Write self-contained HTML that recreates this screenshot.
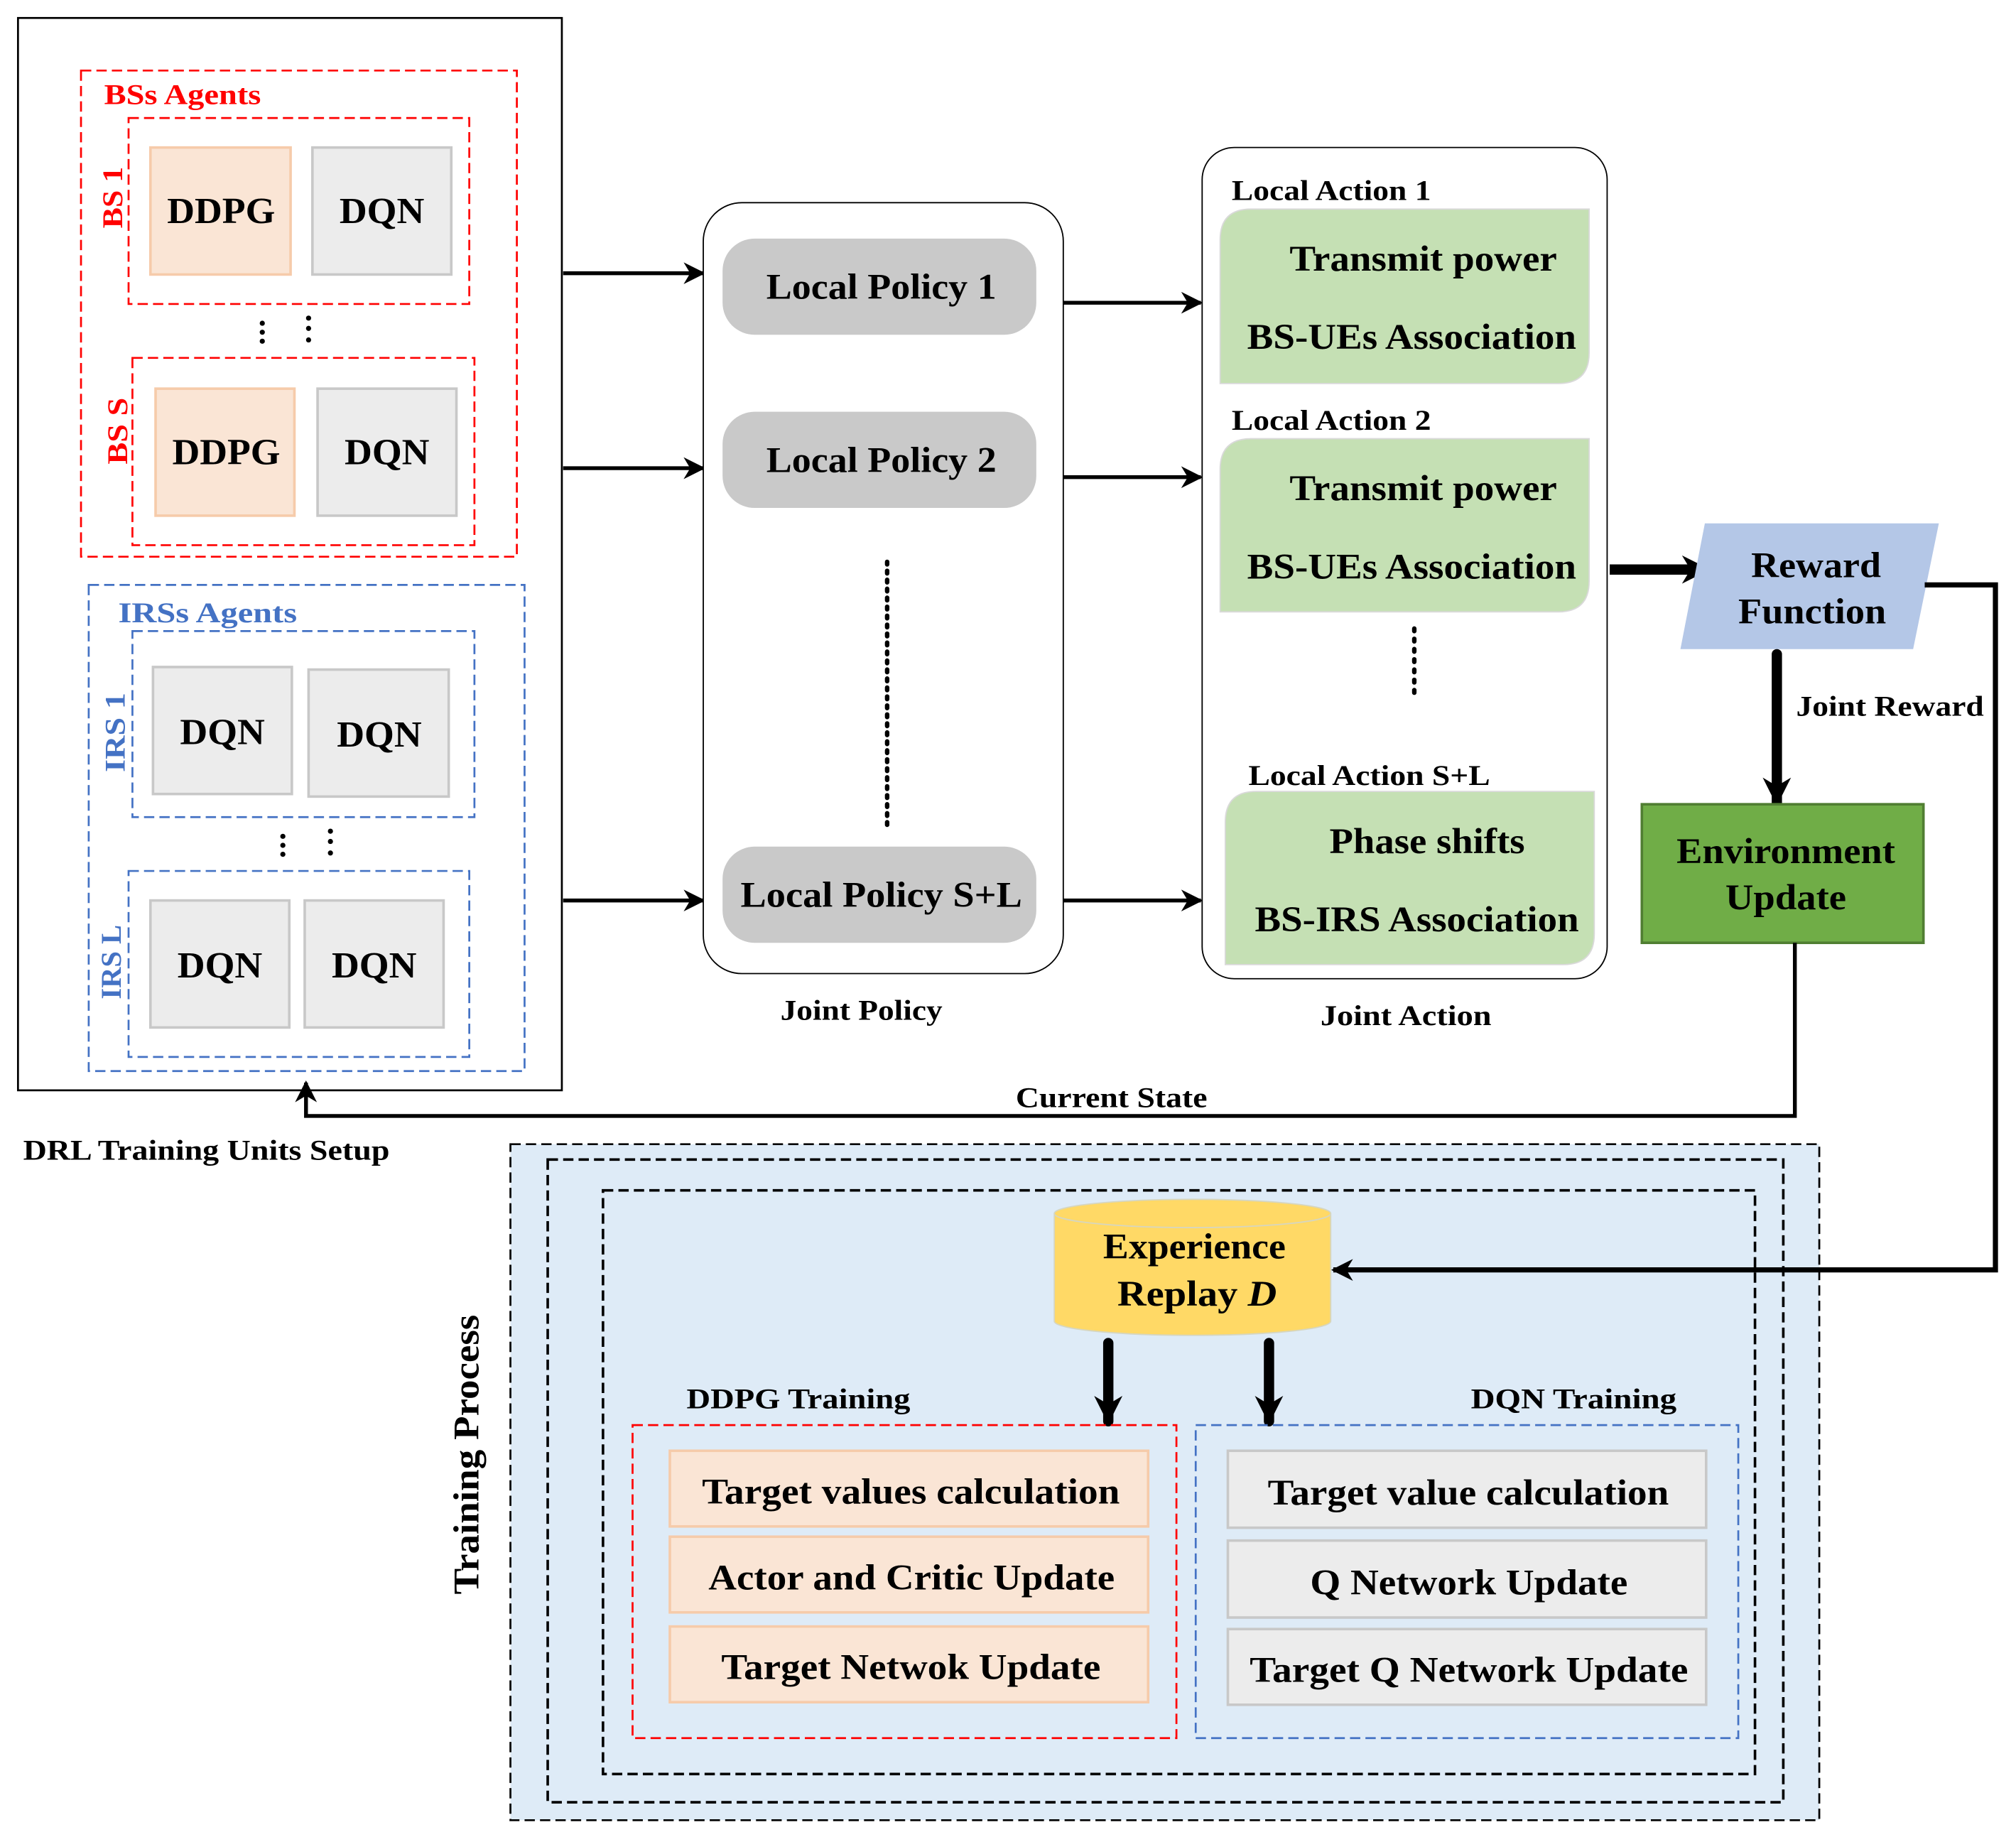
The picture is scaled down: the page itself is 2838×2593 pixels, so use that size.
<!DOCTYPE html>
<html><head><meta charset="utf-8"><style>
html,body{margin:0;padding:0;background:#fff}
svg{display:block}
text{font-family:"Liberation Serif","Times New Roman",serif;font-weight:bold}
</style></head><body>
<svg width="2838" height="2593" viewBox="0 0 1568 1436" preserveAspectRatio="none" xmlns="http://www.w3.org/2000/svg">
<defs>
<marker id="ab" viewBox="0 0 10 10" markerWidth="22" markerHeight="22" refX="9" refY="5" orient="auto" markerUnits="userSpaceOnUse"><path d="M0,0 L10,5 L0,10 L3,5 Z" fill="#000"/></marker>
<marker id="am" viewBox="0 0 10 10" markerWidth="17" markerHeight="17" refX="9" refY="5" orient="auto" markerUnits="userSpaceOnUse"><path d="M0,0 L10,5 L0,10 L3,5 Z" fill="#000"/></marker>
</defs>
<rect x="14" y="14" width="423" height="836" fill="#fff" stroke="#000" stroke-width="1.5"/>
<rect x="63" y="55" width="339" height="379" fill="none" stroke="#f00" stroke-width="1.5" stroke-dasharray="8,4"/>
<text x="81" y="81" font-size="22" fill="#f00" textLength="122" lengthAdjust="spacingAndGlyphs">BSs Agents</text>
<rect x="100" y="92" width="265" height="145" fill="none" stroke="#f00" stroke-width="1.5" stroke-dasharray="8,4"/>
<rect x="117" y="115" width="109" height="99" fill="#fae5d5" stroke="#f6cbaa" stroke-width="2"/>
<rect x="243" y="115" width="108" height="99" fill="#ececec" stroke="#c8c8c8" stroke-width="2"/>
<text x="130" y="174" font-size="29" textLength="84" lengthAdjust="spacingAndGlyphs">DDPG</text>
<text x="264" y="174" font-size="29" textLength="66" lengthAdjust="spacingAndGlyphs">DQN</text>
<text transform="translate(95,154) rotate(-90)" font-size="22" fill="#f00" text-anchor="middle" textLength="48" lengthAdjust="spacingAndGlyphs">BS 1</text>
<g fill="#000"><circle cx="204" cy="252" r="2"/><circle cx="204" cy="259" r="2"/><circle cx="204" cy="266" r="2"/><circle cx="240" cy="248" r="2"/><circle cx="240" cy="256" r="2"/><circle cx="240" cy="265" r="2"/></g>
<rect x="103" y="279" width="266" height="146" fill="none" stroke="#f00" stroke-width="1.5" stroke-dasharray="8,4"/>
<rect x="121" y="303" width="108" height="99" fill="#fae5d5" stroke="#f6cbaa" stroke-width="2"/>
<rect x="247" y="303" width="108" height="99" fill="#ececec" stroke="#c8c8c8" stroke-width="2"/>
<text x="134" y="362" font-size="29" textLength="84" lengthAdjust="spacingAndGlyphs">DDPG</text>
<text x="268" y="362" font-size="29" textLength="66" lengthAdjust="spacingAndGlyphs">DQN</text>
<text transform="translate(99,336) rotate(-90)" font-size="22" fill="#f00" text-anchor="middle" textLength="52" lengthAdjust="spacingAndGlyphs">BS S</text>
<rect x="69" y="456" width="339" height="379" fill="none" stroke="#4472c4" stroke-width="1.5" stroke-dasharray="8,4"/>
<text x="92" y="485" font-size="22" fill="#4472c4" textLength="139" lengthAdjust="spacingAndGlyphs">IRSs  Agents</text>
<rect x="103" y="492" width="266" height="145" fill="none" stroke="#4472c4" stroke-width="1.5" stroke-dasharray="8,4"/>
<rect x="119" y="520" width="108" height="99" fill="#ececec" stroke="#c8c8c8" stroke-width="2"/>
<rect x="240" y="522" width="109" height="99" fill="#ececec" stroke="#c8c8c8" stroke-width="2"/>
<text x="140" y="580" font-size="29" textLength="66" lengthAdjust="spacingAndGlyphs">DQN</text>
<text x="262" y="582" font-size="29" textLength="66" lengthAdjust="spacingAndGlyphs">DQN</text>
<text transform="translate(97,571) rotate(-90)" font-size="22" fill="#4472c4" text-anchor="middle" textLength="62" lengthAdjust="spacingAndGlyphs">IRS 1</text>
<g fill="#000"><circle cx="220" cy="652" r="2"/><circle cx="220" cy="659" r="2"/><circle cx="220" cy="666" r="2"/><circle cx="257" cy="648" r="2"/><circle cx="257" cy="656" r="2"/><circle cx="257" cy="665" r="2"/></g>
<rect x="100" y="679" width="265" height="145" fill="none" stroke="#4472c4" stroke-width="1.5" stroke-dasharray="8,4"/>
<rect x="117" y="702" width="108" height="99" fill="#ececec" stroke="#c8c8c8" stroke-width="2"/>
<rect x="237" y="702" width="108" height="99" fill="#ececec" stroke="#c8c8c8" stroke-width="2"/>
<text x="138" y="762" font-size="29" textLength="66" lengthAdjust="spacingAndGlyphs">DQN</text>
<text x="258" y="762" font-size="29" textLength="66" lengthAdjust="spacingAndGlyphs">DQN</text>
<text transform="translate(94,750) rotate(-90)" font-size="22" fill="#4472c4" text-anchor="middle" textLength="58" lengthAdjust="spacingAndGlyphs">IRS L</text>
<text x="18" y="904" font-size="22" textLength="285" lengthAdjust="spacingAndGlyphs">DRL Training Units Setup</text>
<g stroke="#000" stroke-width="3" fill="none">
<line x1="438" y1="213" x2="547" y2="213" marker-end="url(#am)"/>
<line x1="438" y1="365" x2="547" y2="365" marker-end="url(#am)"/>
<line x1="438" y1="702" x2="547" y2="702" marker-end="url(#am)"/>
<line x1="827" y1="236" x2="934" y2="236" marker-end="url(#am)"/>
<line x1="827" y1="372" x2="934" y2="372" marker-end="url(#am)"/>
<line x1="827" y1="702" x2="934" y2="702" marker-end="url(#am)"/>
</g>
<rect x="547" y="158" width="280" height="601" rx="30" fill="#fff" stroke="#000" stroke-width="1"/>
<rect x="562" y="186" width="244" height="75" rx="25" fill="#c9c9c9"/>
<rect x="562" y="321" width="244" height="75" rx="25" fill="#c9c9c9"/>
<rect x="562" y="660" width="244" height="75" rx="25" fill="#c9c9c9"/>
<text x="596" y="233" font-size="28" textLength="179" lengthAdjust="spacingAndGlyphs">Local Policy 1</text>
<text x="596" y="368" font-size="28" textLength="179" lengthAdjust="spacingAndGlyphs">Local Policy 2</text>
<text x="576" y="707" font-size="28" textLength="219" lengthAdjust="spacingAndGlyphs">Local Policy S+L</text>
<line x1="690" y1="438" x2="690" y2="645" stroke="#000" stroke-width="3.5" stroke-dasharray="2,5" stroke-linecap="round"/>
<text x="607" y="795" font-size="22" textLength="126" lengthAdjust="spacingAndGlyphs">Joint Policy</text>
<rect x="935" y="115" width="315" height="648" rx="25" fill="#fff" stroke="#000" stroke-width="1"/>
<g fill="#c5e0b4" stroke="#d9d9d9" stroke-width="1">
<path d="M973,163 H1236 V275 Q1236,299 1212,299 H949 V187 Q949,163 973,163 Z"/>
<path d="M973,342 H1236 V453 Q1236,477 1212,477 H949 V366 Q949,342 973,342 Z"/>
<path d="M977,617 H1240 V728 Q1240,752 1216,752 H953 V641 Q953,617 977,617 Z"/>
</g>
<text x="958" y="156" font-size="22" textLength="155" lengthAdjust="spacingAndGlyphs">Local Action 1</text>
<text x="1003" y="211" font-size="28" textLength="208" lengthAdjust="spacingAndGlyphs">Transmit power</text>
<text x="970" y="272" font-size="28" textLength="256" lengthAdjust="spacingAndGlyphs">BS-UEs Association</text>
<text x="958" y="335" font-size="22" textLength="155" lengthAdjust="spacingAndGlyphs">Local Action 2</text>
<text x="1003" y="390" font-size="28" textLength="208" lengthAdjust="spacingAndGlyphs">Transmit power</text>
<text x="970" y="451" font-size="28" textLength="256" lengthAdjust="spacingAndGlyphs">BS-UEs Association</text>
<line x1="1100" y1="490" x2="1100" y2="540" stroke="#000" stroke-width="3.5" stroke-dasharray="2,6" stroke-linecap="round"/>
<text x="971" y="612" font-size="22" textLength="188" lengthAdjust="spacingAndGlyphs">Local Action S+L</text>
<text x="1034" y="665" font-size="28" textLength="152" lengthAdjust="spacingAndGlyphs">Phase shifts</text>
<text x="976" y="726" font-size="28" textLength="252" lengthAdjust="spacingAndGlyphs">BS-IRS Association</text>
<text x="1027" y="799" font-size="22" textLength="133" lengthAdjust="spacingAndGlyphs">Joint Action</text>
<line x1="1252" y1="444" x2="1328" y2="444" stroke="#000" stroke-width="8" marker-end="url(#ab)"/>
<polygon points="1326,408 1508,408 1488,506 1307,506" fill="#b4c7e7"/>
<text x="1362" y="450" font-size="28" textLength="101" lengthAdjust="spacingAndGlyphs">Reward</text>
<text x="1352" y="486" font-size="28" textLength="115" lengthAdjust="spacingAndGlyphs">Function</text>
<line x1="1382" y1="510" x2="1382" y2="626" stroke="#000" stroke-width="8" stroke-linecap="round" marker-end="url(#ab)"/>
<text x="1397" y="558" font-size="22" textLength="146" lengthAdjust="spacingAndGlyphs">Joint Reward</text>
<rect x="1277" y="627" width="219" height="108" fill="#70ad47" stroke="#507e32" stroke-width="2"/>
<text x="1304" y="673" font-size="28" textLength="170" lengthAdjust="spacingAndGlyphs">Environment</text>
<text x="1342" y="709" font-size="28" textLength="94" lengthAdjust="spacingAndGlyphs">Update</text>
<polyline points="1396,735 1396,870 238,870 238,844" fill="none" stroke="#000" stroke-width="3" marker-end="url(#am)"/>
<text x="790" y="863" font-size="22" textLength="149" lengthAdjust="spacingAndGlyphs">Current State</text>
<rect x="397" y="892" width="1018" height="527" fill="#deebf7" stroke="#000" stroke-width="1.5" stroke-dasharray="8,4"/>
<rect x="426" y="904" width="961" height="501" fill="none" stroke="#000" stroke-width="2" stroke-dasharray="8,4"/>
<rect x="469" y="928" width="896" height="455" fill="none" stroke="#000" stroke-width="2" stroke-dasharray="8,4"/>
<text transform="translate(372,1134) rotate(-90)" font-size="28" text-anchor="middle" textLength="218" lengthAdjust="spacingAndGlyphs">Training Process</text>
<polyline points="1497,456 1552,456 1552,990 1037,990" fill="none" stroke="#000" stroke-width="4" marker-end="url(#am)"/>
<path d="M820,946 V1030 A107.5,11 0 0 0 1035,1030 V946 A107.5,11 0 0 0 820,946 A107.5,11 0 0 0 1035,946" fill="#ffd966" stroke="#d6d6c0" stroke-width="1"/>
<text x="858" y="981" font-size="28" textLength="142" lengthAdjust="spacingAndGlyphs">Experience</text>
<text x="869" y="1018" font-size="28" textLength="124" lengthAdjust="spacingAndGlyphs">Replay <tspan font-style="italic">D</tspan></text>
<line x1="862" y1="1047" x2="862" y2="1108" stroke="#000" stroke-width="8" stroke-linecap="round" marker-end="url(#ab)"/>
<line x1="987" y1="1047" x2="987" y2="1108" stroke="#000" stroke-width="8" stroke-linecap="round" marker-end="url(#ab)"/>
<text x="534" y="1098" font-size="22" textLength="174" lengthAdjust="spacingAndGlyphs">DDPG Training</text>
<text x="1144" y="1098" font-size="22" textLength="160" lengthAdjust="spacingAndGlyphs">DQN Training</text>
<rect x="492" y="1111" width="423" height="244" fill="none" stroke="#f00" stroke-width="1.5" stroke-dasharray="8,4"/>
<rect x="930" y="1111" width="422" height="244" fill="none" stroke="#4472c4" stroke-width="1.5" stroke-dasharray="8,4"/>
<g fill="#fae5d5" stroke="#f6cbaa" stroke-width="2">
<rect x="521" y="1131" width="372" height="59"/><rect x="521" y="1198" width="372" height="59"/><rect x="521" y="1268" width="372" height="59"/>
</g>
<g fill="#ececec" stroke="#c8c8c8" stroke-width="2">
<rect x="955" y="1131" width="372" height="60"/><rect x="955" y="1201" width="372" height="60"/><rect x="955" y="1270" width="372" height="59"/>
</g>
<text x="546" y="1172" font-size="28" textLength="325" lengthAdjust="spacingAndGlyphs">Target values calculation</text>
<text x="551" y="1239" font-size="28" textLength="316" lengthAdjust="spacingAndGlyphs">Actor and Critic Update</text>
<text x="561" y="1309" font-size="28" textLength="295" lengthAdjust="spacingAndGlyphs">Target Netwok Update</text>
<text x="986" y="1173" font-size="28" textLength="312" lengthAdjust="spacingAndGlyphs">Target value calculation</text>
<text x="1019" y="1243" font-size="28" textLength="247" lengthAdjust="spacingAndGlyphs">Q Network Update</text>
<text x="972" y="1311" font-size="28" textLength="341" lengthAdjust="spacingAndGlyphs">Target Q Network Update</text>
</svg>
</body></html>
